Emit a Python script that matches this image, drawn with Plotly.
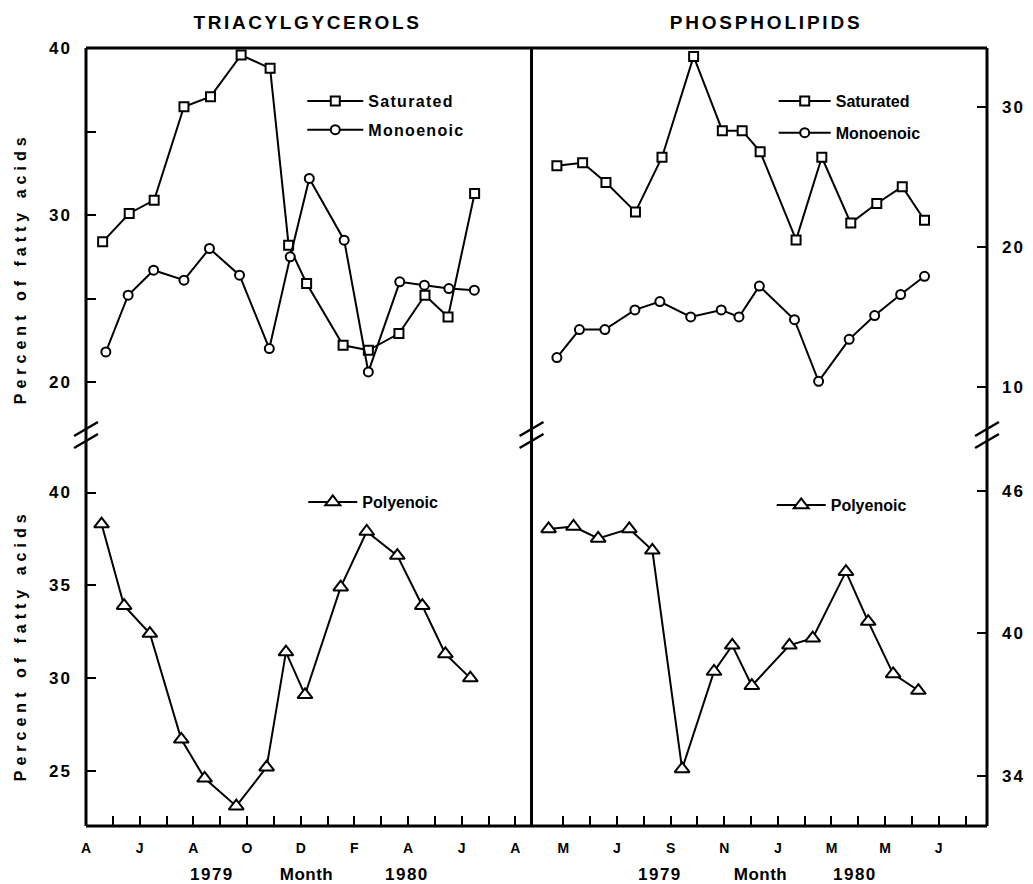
import plotly.graph_objects as go

# ---------------- data ----------------
# x = months elapsed since April 1979 (sampling dates)
tag_sat_x = [0.62, 1.61, 2.54, 3.65, 4.64, 5.78, 6.86, 7.55, 8.22, 9.58, 10.52, 11.66, 12.63, 13.49, 14.48]
tag_sat_y = [28.4, 30.1, 30.9, 36.5, 37.1, 39.6, 38.8, 28.2, 25.9, 22.2, 21.9, 22.9, 25.2, 23.9, 31.3]
tag_mono_x = [0.74, 1.57, 2.52, 3.65, 4.60, 5.72, 6.83, 7.61, 8.32, 9.62, 10.52, 11.69, 12.61, 13.52, 14.47]
tag_mono_y = [21.8, 25.2, 26.7, 26.1, 28.0, 26.4, 22.0, 27.5, 32.2, 28.5, 20.6, 26.0, 25.8, 25.6, 25.5]
tag_poly_x = [0.58, 1.42, 2.38, 3.55, 4.42, 5.60, 6.73, 7.45, 8.16, 9.49, 10.46, 11.60, 12.53, 13.39, 14.32]
tag_poly_y = [38.3, 33.9, 32.4, 26.7, 24.6, 23.1, 25.2, 31.4, 29.1, 34.9, 37.9, 36.6, 33.9, 31.3, 30.0]

pl_sat_x = [0.76, 1.72, 2.59, 3.69, 4.68, 5.86, 6.93, 7.67, 8.34, 9.68, 10.64, 11.72, 12.69, 13.64, 14.47]
pl_sat_y = [25.8, 26.0, 24.6, 22.5, 26.4, 33.6, 28.3, 28.3, 26.8, 20.5, 26.4, 21.7, 23.1, 24.3, 21.9]
pl_mono_x = [0.76, 1.60, 2.55, 3.67, 4.60, 5.75, 6.89, 7.55, 8.31, 9.62, 10.52, 11.66, 12.61, 13.58, 14.47]
pl_mono_y = [12.1, 14.1, 14.1, 15.5, 16.1, 15.0, 15.5, 15.0, 17.2, 14.8, 10.4, 13.4, 15.1, 16.6, 17.9]
pl_poly_x = [0.45, 1.38, 2.30, 3.46, 4.32, 5.43, 6.62, 7.30, 8.03, 9.43, 10.30, 11.54, 12.37, 13.30, 14.24]
pl_poly_y = [44.4, 44.5, 44.0, 44.4, 43.5, 34.3, 38.4, 39.5, 37.8, 39.5, 39.8, 42.6, 40.5, 38.3, 37.6]

left_month_ticks = list(range(0, 17))
left_month_text = ["A", "", "J", "", "A", "", "O", "", "D", "", "F", "", "A", "", "J", "", "A"]
right_month_ticks = list(range(1, 17))
right_month_text = ["M", "", "J", "", "S", "", "N", "", "J", "", "M", "", "M", "", "J", ""]

tag_top_ticks = [20, 25, 30, 35, 40]
tag_top_text = ["20", "", "30", "", "40"]
tag_bot_ticks = [25, 30, 35, 40]
pl_top_ticks = [10, 20, 30]
pl_bot_ticks = [34, 40, 46]

panel_titles = ["TRIACYLGYCEROLS", "PHOSPHOLIPIDS"]
y_title = "Percent of fatty acids"

# ---------------- layout geometry ----------------
W, H = 1033, 884
L, R, T, B = 86, 990, 48, 826


def px(x):
    return (x - L) / (R - L)


def py(y):
    return (B - y) / (B - T)


XD = px(533)
YD = py(435)
FONT = "Liberation Sans, Arial, sans-serif"

fig = go.Figure()


def add(x, y, name, sym, size, xa, ya, legend, group):
    fig.add_trace(go.Scatter(
        x=x, y=y, mode="lines+markers", name=name,
        line=dict(color="black", width=2),
        marker=dict(symbol=sym, size=size, color="white",
                    line=dict(color="black", width=2)),
        xaxis=xa, yaxis=ya, legend=legend, legendgroup=group,
        cliponaxis=False, hoverinfo="x+y+name"))


add(tag_sat_x, tag_sat_y, "Saturated", "square", 9, "x", "y", "legend", "a1")
add(tag_mono_x, tag_mono_y, "Monoenoic", "circle", 9, "x", "y", "legend", "a2")
add(pl_sat_x, pl_sat_y, "Saturated", "square", 9, "x2", "y2", "legend2", "b1")
add(pl_mono_x, pl_mono_y, "Monoenoic", "circle", 9, "x2", "y2", "legend2", "b2")
add(tag_poly_x, tag_poly_y, "Polyenoic", "triangle-up", 13, "x3", "y3", "legend3", "c1")
add(pl_poly_x, pl_poly_y, "Polyenoic", "triangle-up", 13, "x4", "y4", "legend4", "d1")

tickfont = dict(family=FONT, size=17, color="black", weight="bold")
monthfont = dict(family=FONT, size=14, color="black", weight="bold")

common_y = dict(ticks="inside", ticklen=10, tickwidth=2, tickcolor="black",
                showgrid=False, zeroline=False, showline=False,
                tickfont=tickfont, tickmode="array")
common_x = dict(ticks="inside", ticklen=10, tickwidth=2, tickcolor="black",
                showgrid=False, zeroline=False, showline=False,
                tickfont=monthfont, ticklabelstandoff=12, tickmode="array")

left_range = [0, 16.6]
right_range = [-0.186, 16.8]


def leg(xpix, ypix, iw, gap):
    return dict(x=px(xpix), y=py(ypix), xanchor="left", yanchor="top",
                bgcolor="rgba(0,0,0,0)", borderwidth=0,
                font=dict(family=FONT, size=16, color="black", weight="bold"),
                traceorder="grouped", tracegroupgap=gap, itemwidth=iw)


fig.update_layout(
    width=W, height=H,
    margin=dict(l=L, r=W - R, t=T, b=H - B),
    paper_bgcolor="white", plot_bgcolor="white",
    showlegend=True,
    xaxis=dict(domain=[0, XD], range=left_range, visible=False, anchor="y"),
    xaxis2=dict(domain=[XD, 1], range=right_range, visible=False, anchor="y2"),
    xaxis3=dict(domain=[0, XD], range=left_range, anchor="y3",
                tickvals=left_month_ticks, ticktext=left_month_text, **common_x),
    xaxis4=dict(domain=[XD, 1], range=right_range, anchor="y4",
                tickvals=right_month_ticks, ticktext=right_month_text, **common_x),
    yaxis=dict(domain=[YD, 1], range=[16.82, 40.02], anchor="x", ticklabelstandoff=13,
               tickvals=tag_top_ticks, ticktext=tag_top_text, **common_y),
    yaxis2=dict(domain=[YD, 1], range=[6.57, 34.2], anchor="x2", side="right", ticklabelstandoff=14,
                tickvals=pl_top_ticks, ticktext=[str(v) for v in pl_top_ticks], **common_y),
    yaxis3=dict(domain=[0, YD], range=[22.03, 43.1], anchor="x3", ticklabelstandoff=13,
                tickvals=tag_bot_ticks, ticktext=[str(v) for v in tag_bot_ticks], **common_y),
    yaxis4=dict(domain=[0, YD], range=[31.9, 48.35], anchor="x4", side="right", ticklabelstandoff=14,
                tickvals=pl_bot_ticks, ticktext=[str(v) for v in pl_bot_ticks], **common_y),
    legend=leg(303, 84, 56, 5),
    legend2=leg(776, 84, 52, 8),
    legend3=leg(304, 485, 49, 5),
    legend4=leg(774, 488, 49, 5),
)

# frame and broken-axis marks
shapes = []
fl = dict(color="black", width=3)
for xv in (0, XD, 1):
    shapes.append(dict(type="line", xref="paper", yref="paper", x0=xv, x1=xv, y0=0, y1=1, line=fl))
shapes.append(dict(type="line", xref="paper", yref="paper", x0=0, x1=1, y0=1, y1=1, line=fl))
shapes.append(dict(type="line", xref="paper", yref="paper", x0=0, x1=1, y0=0, y1=0, line=fl))
for axpx in (L, 533, R):
    for dy in (0, 12):
        shapes.append(dict(type="line", xref="paper", yref="paper",
                           x0=px(axpx - 12), y0=py(436 + dy), x1=px(axpx + 12), y1=py(422 + dy),
                           line=dict(color="black", width=2.5)))
fig.update_layout(shapes=shapes)

ann = []
titlefont = dict(family=FONT, size=19, color="black", weight="bold")
ann.append(dict(text=panel_titles[0], x=px(308), y=py(22), xref="paper", yref="paper",
                showarrow=False, font=titlefont, xanchor="center", yanchor="middle"))
ann.append(dict(text=panel_titles[1], x=px(768), y=py(22), xref="paper", yref="paper",
                showarrow=False, font=titlefont, xanchor="center", yanchor="middle"))
ylabfont = dict(family=FONT, size=16, color="black", weight="bold")
for yc in (268, 645):
    ann.append(dict(text=y_title, x=px(20), y=py(yc), xref="paper", yref="paper",
                    showarrow=False, textangle=-90, font=ylabfont,
                    xanchor="center", yanchor="middle"))
yrfont = dict(family=FONT, size=17, color="black", weight="bold")
for txt, xc in (("1979", 212), ("Month", 307), ("1980", 408),
                ("1979", 662), ("Month", 763), ("1980", 858)):
    ann.append(dict(text=txt, x=px(xc), y=py(875), xref="paper", yref="paper",
                    showarrow=False, font=yrfont, xanchor="center", yanchor="middle"))
fig.update_layout(annotations=ann)

# page tweaks: no body margin; wide letter spacing like the typeset original
post = """
document.body.style.margin = '0';
document.body.style.overflow = 'hidden';
var gd = document.getElementById('{plot_id}');
var sp = {'TRIACYLGYCEROLS': '2.6px', 'PHOSPHOLIPIDS': '2.8px',
          'Percent of fatty acids': '5px', '1979': '1.5px', '1980': '1.5px', 'Month': '0.5px'};
gd.querySelectorAll('.annotation-text').forEach(function (t) {
  var s = sp[t.textContent]; if (s) { t.style.letterSpacing = s; }
});
gd.querySelectorAll('.legend .scrollbox').forEach(function (g) { g.removeAttribute('clip-path'); });
gd.querySelectorAll('.legendtext').forEach(function (t) { t.style.letterSpacing = '1.3px'; });
gd.querySelectorAll('.ytick text, .y2tick text, .y3tick text, .y4tick text').forEach(function (t) {
  t.style.letterSpacing = '2px';
});
"""

fig.write_html("out.html", post_script=post, config={"displayModeBar": False})
